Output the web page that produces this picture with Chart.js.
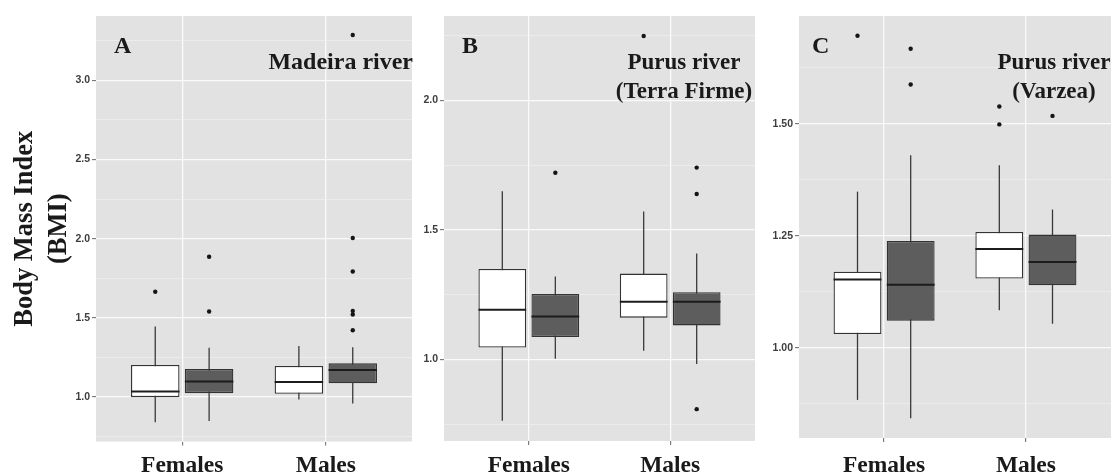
<!DOCTYPE html>
<html lang="en">
<head>
<meta charset="UTF-8">
<title>Body Mass Index by sex</title>
<script src="https://cdn.jsdelivr.net/npm/chart.js@4"></script>
<style>
  body { margin: 0; background: #fff; }
  #wrap { position: relative; width: 1115px; height: 475px; overflow: hidden; }
  #wrap canvas { position: absolute; top: 0; }
</style>
</head>
<body>
<div id="wrap">
  <canvas id="panelA" width="416" height="475" style="left:0px"></canvas>
  <canvas id="panelB" width="343" height="475" style="left:416px"></canvas>
  <canvas id="panelC" width="356" height="475" style="left:759px"></canvas>
</div>
<script>
const categories = ['Females', 'Males'];

// box stats per category: [lower whisker, q1, median, q3, upper whisker]
const madeiraLight = [[0.842, 1.000, 1.036, 1.203, 1.445], [0.985, 1.021, 1.095, 1.196, 1.323]];
const madeiraDark  = [[0.850, 1.025, 1.099, 1.177, 1.312], [0.960, 1.087, 1.171, 1.213, 1.315]];
const madeiraLightOut = [[1.665], []];
const madeiraDarkOut  = [[1.886, 1.540], [3.285, 2.004, 1.793, 1.544, 1.521, 1.422]];
const madeiraTicks = ['1.0', '1.5', '2.0', '2.5', '3.0'];

const terraLight = [[0.763, 1.046, 1.191, 1.349, 1.649], [1.033, 1.161, 1.222, 1.331, 1.571]];
const terraDark  = [[1.002, 1.086, 1.165, 1.252, 1.320], [0.982, 1.131, 1.222, 1.259, 1.409]];
const terraLightOut = [[], [2.248]];
const terraDarkOut  = [[1.720], [1.740, 1.638, 0.808]];
const terraTicks = ['1.0', '1.5', '2.0'];

const varzeaLight = [[0.884, 1.031, 1.153, 1.170, 1.349], [1.084, 1.155, 1.221, 1.259, 1.408]];
const varzeaDark  = [[0.843, 1.061, 1.141, 1.239, 1.430], [1.054, 1.140, 1.192, 1.253, 1.309]];
const varzeaLightOut = [[1.697], [1.539, 1.499]];
const varzeaDarkOut  = [[1.668, 1.588], [1.518]];
const varzeaTicks = ['1.00', '1.25', '1.50'];

const dodge = 0.75 / 4; // half of a dodged box slot, in category units
const serif = "'Liberation Serif', 'Times New Roman', serif";

const boxPlugin = {
  id: 'boxes',
  beforeDraw(chart) {
    const { ctx, chartArea: a } = chart;
    ctx.save();
    ctx.fillStyle = '#e2e2e2';
    ctx.fillRect(a.left, a.top, a.right - a.left, a.bottom - a.top);
    ctx.restore();
  },
  beforeDatasetsDraw(chart) {
    const { ctx } = chart;
    const y = chart.scales.y;
    ctx.save();
    ctx.strokeStyle = '#3a3a3a';
    ctx.lineWidth = 1.3;
    chart.data.datasets.forEach((ds, di) => {
      if (!ds.stats) return;
      chart.getDatasetMeta(di).data.forEach((bar, i) => {
        const s = ds.stats[i];
        ctx.beginPath();
        ctx.moveTo(bar.x, y.getPixelForValue(s[0]));
        ctx.lineTo(bar.x, y.getPixelForValue(s[4]));
        ctx.stroke();
      });
    });
    ctx.restore();
  },
  afterDatasetsDraw(chart) {
    const { ctx } = chart;
    const y = chart.scales.y;
    ctx.save();
    ctx.strokeStyle = '#1c1c1c';
    ctx.lineWidth = 2;
    chart.data.datasets.forEach((ds, di) => {
      if (!ds.stats) return;
      chart.getDatasetMeta(di).data.forEach((bar, i) => {
        const py = y.getPixelForValue(ds.stats[i][2]);
        ctx.beginPath();
        ctx.moveTo(bar.x - bar.width / 2, py);
        ctx.lineTo(bar.x + bar.width / 2, py);
        ctx.stroke();
      });
    });
    ctx.restore();
  },
  afterDraw(chart) {
    const t = chart.options.plugins.boxes;
    const { ctx, chartArea: a } = chart;
    ctx.save();
    ctx.fillStyle = '#1a1a1a';
    ctx.textBaseline = 'alphabetic';
    ctx.font = 'bold 24px ' + serif;
    ctx.textAlign = 'left';
    ctx.fillText(t.letter, a.left + t.letterX, 53);
    ctx.font = 'bold ' + t.size + 'px ' + serif;
    ctx.textAlign = t.align;
    t.lines.forEach((line, i) => ctx.fillText(line, a.left + t.textX, 69 + i * 29));
    ctx.restore();
  }
};

function makePanel(id, p) {
  const majors = p.ticks.map(Number);
  const step = majors[1] - majors[0];
  const grid = [];
  for (let v = majors[0] - step / 2; v <= p.yMax + 1e-9; v += step / 2) {
    if (v >= p.yMin) grid.push(+v.toFixed(4));
  }
  const isMajor = v => majors.some(m => Math.abs(m - v) < 1e-6);

  const datasets = [p.light, p.dark].map((stats, k) => ({
    type: 'bar',
    data: stats.map((s, i) => ({ x: i + 1, y: [s[1], s[3]] })),
    stats: stats,
    backgroundColor: k === 0 ? '#ffffff' : '#5d5d5d',
    borderColor: '#333333',
    borderWidth: 1.3,
    borderSkipped: false,
    categoryPercentage: 0.75,
    barPercentage: 0.9
  }));
  [p.lightOut, p.darkOut].forEach((outs, k) => {
    const pts = [];
    outs.forEach((vals, i) => vals.forEach(v => pts.push({ x: i + 1 + (k === 0 ? -dodge : dodge), y: v })));
    datasets.push({
      type: 'scatter',
      data: pts,
      pointRadius: 2.2,
      pointBackgroundColor: '#151515',
      pointBorderWidth: 0
    });
  });

  new Chart(document.getElementById(id), {
    type: 'bar',
    data: { datasets: datasets },
    plugins: [boxPlugin],
    options: {
      responsive: false,
      animation: false,
      events: [],
      devicePixelRatio: 1,
      layout: { padding: { top: 16, left: 0, right: 0, bottom: 0 } },
      plugins: {
        legend: { display: false },
        tooltip: { enabled: false },
        boxes: p.text
      },
      scales: {
        x: {
          type: 'linear',
          min: 0.4,
          max: 2.6,
          bounds: 'data',
          offset: false,
          afterBuildTicks: s => { s.ticks = categories.map((c, i) => ({ value: i + 1 })); },
          ticks: {
            callback: (v, i) => categories[i],
            autoSkip: false,
            maxRotation: 0,
            padding: 7 + (441 - p.bottom),
            color: '#1a1a1a',
            font: { family: serif, size: 23.5, weight: 'bold' }
          },
          grid: { offset: false, color: '#fafafa', lineWidth: 1.3, tickColor: '#666', tickLength: 4, tickWidth: 1 },
          border: { display: false },
          afterFit: s => { s.height = 475 - p.bottom; }
        },
        y: {
          type: 'linear',
          min: p.yMin,
          max: p.yMax,
          bounds: 'data',
          afterBuildTicks: s => { s.ticks = grid.map(v => ({ value: v })); },
          ticks: {
            callback: v => {
              const lab = p.ticks.find(l => Math.abs(Number(l) - v) < 1e-6);
              return lab === undefined ? '' : lab;
            },
            autoSkip: false,
            padding: 2,
            color: '#3d3d3d',
            font: { family: "'Liberation Sans', Arial, sans-serif", size: 10.5, weight: 'bold' }
          },
          grid: {
            color: c => isMajor(c.tick.value) ? '#fafafa' : '#f1f1f1',
            lineWidth: c => isMajor(c.tick.value) ? 1.3 : 0.7,
            tickColor: c => isMajor(c.tick.value) ? '#666' : 'rgba(0,0,0,0)',
            tickLength: 4,
            tickWidth: 1
          },
          border: { display: false },
          title: p.title ? {
            display: true,
            text: p.title,
            color: '#1a1a1a',
            font: { family: serif, size: 26.5, weight: 'bold', lineHeight: 34 / 26.5 },
            padding: { top: 8, bottom: 0 }
          } : { display: false },
          afterFit: s => { s.width = p.left; }
        }
      }
    }
  });
}

makePanel('panelA', {
  light: madeiraLight, dark: madeiraDark, lightOut: madeiraLightOut, darkOut: madeiraDarkOut,
  ticks: madeiraTicks, yMin: 0.72, yMax: 3.405, left: 96, bottom: 441.5,
  title: ['Body Mass Index', '(BMI)'],
  text: { letter: 'A', letterX: 18, lines: ['Madeira river'], align: 'right', textX: 317, size: 24 }
});
makePanel('panelB', {
  light: terraLight, dark: terraDark, lightOut: terraLightOut, darkOut: terraDarkOut,
  ticks: terraTicks, yMin: 0.685, yMax: 2.325, left: 28, bottom: 441,
  text: { letter: 'B', letterX: 18, lines: ['Purus river', '(Terra Firme)'], align: 'center', textX: 240, size: 23 }
});
makePanel('panelC', {
  light: varzeaLight, dark: varzeaDark, lightOut: varzeaLightOut, darkOut: varzeaDarkOut,
  ticks: varzeaTicks, yMin: 0.799, yMax: 1.741, left: 40, bottom: 438,
  text: { letter: 'C', letterX: 13, lines: ['Purus river', '(Varzea)'], align: 'center', textX: 255, size: 23 }
});
</script>
</body>
</html>
